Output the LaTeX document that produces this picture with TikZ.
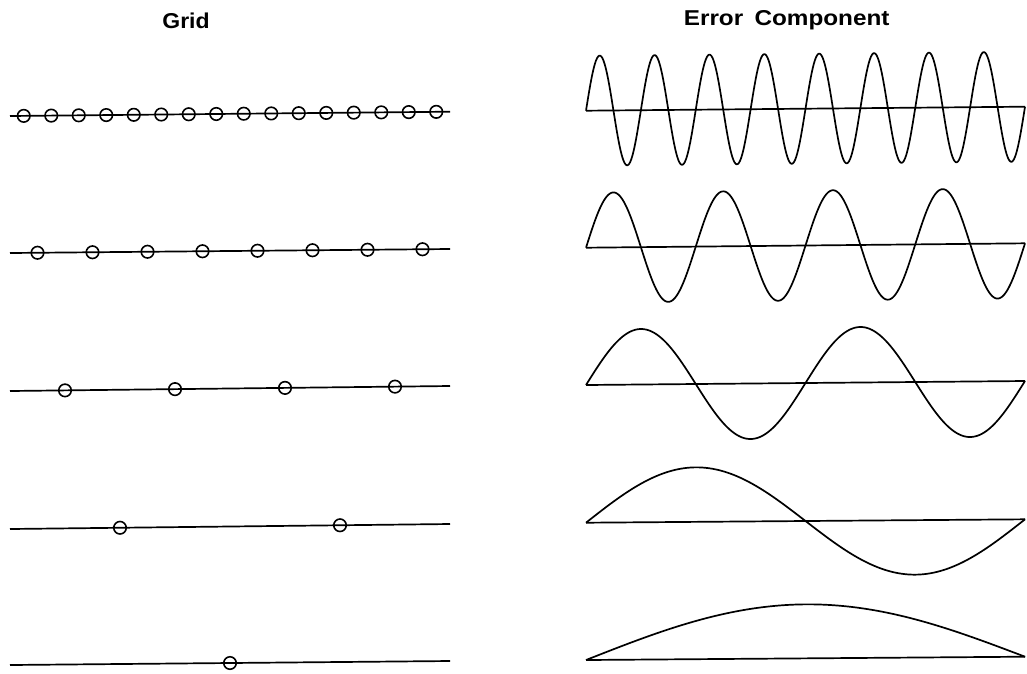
\documentclass[tikz,border=0pt]{standalone}
\usepackage{fontspec}
\setmainfont{Liberation Sans}
\usetikzlibrary{calc}
\begin{document}
\begin{tikzpicture}[x=1pt,y=-1pt, line width=1.7pt, line join=round,
  gridpt/.style={circle, draw, line width=1.6pt, minimum size=12.5pt, inner sep=0pt},
  ttl/.style={font=\fontsize{21.5}{21.5}\selectfont\bfseries, inner sep=0pt, anchor=base west},
  wave/.style={line width=1.7pt, line join=round}]
\useasboundingbox (0,0) rectangle (1027,673);
% titles
\node[ttl] (gridtitle) at (161.5,28.5) {\scalebox{1.07}[1]{Grid}};
\node[ttl] (errtitle) at (683,25.5) {\scalebox{1.13}[1]{Error\hspace{10pt}Component}};
% grid rows
\foreach \r/\yl/\yr/\n in {1/116/111.7/16, 2/253/249/8, 3/391/386/4, 4/529/524/2, 5/665/661/1} {
  \coordinate (gl\r) at (10,\yl);
  \coordinate (gr\r) at (450,\yr);
  \draw (gl\r) -- (gr\r);
  \foreach \k in {1,...,\n} {
    \node[gridpt] (c\r-\k) at ($(gl\r)!{(\k-0.5)/\n}!(gr\r)$) {};
  }
}
% error components
\foreach \r/\yl/\yr/\n/\A in {1/110.7/106.7/8/55, 2/247.7/243.3/4/55, 3/385/381/2/55.5, 4/522.7/519.3/1/54.5, 5/660/656.7/0.5/54} {
  \coordinate (wl\r) at (586,\yl);
  \coordinate (wr\r) at (1025,\yr);
  \draw (wl\r) -- (wr\r);
  \draw[wave] plot[domain=0:439, samples=400, variable=\t]
    ({586+\t}, {\yl + (\yr-\yl)*(\t/439) - \A*sin((\t/439)*360*\n)});
}
\end{tikzpicture}
\end{document}
